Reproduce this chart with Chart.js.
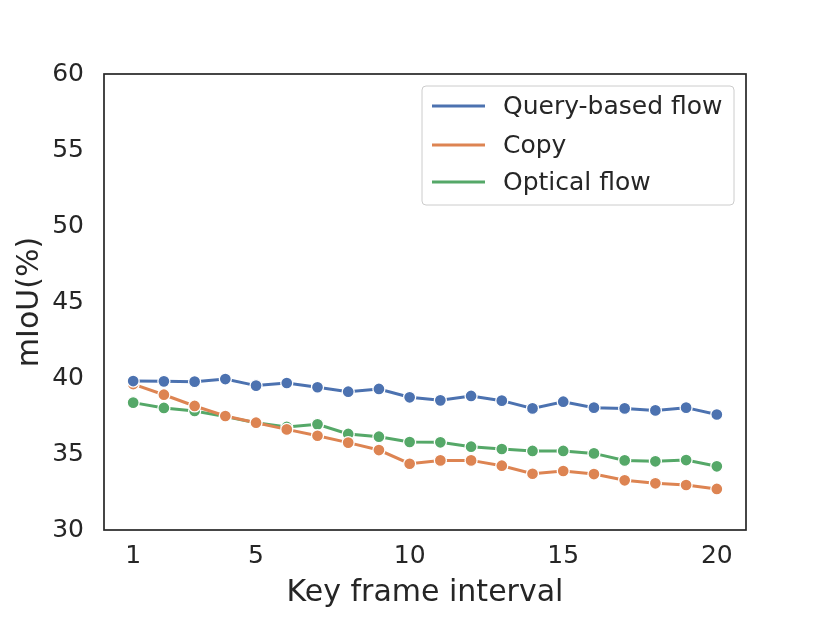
<!DOCTYPE html>
<html>
<head>
<meta charset="utf-8">
<script src="https://cdn.jsdelivr.net/npm/chart.js@4"></script>
<style>
  html,body{margin:0;padding:0;background:#fff;}
  #wrap{width:830px;height:623px;}
</style>
</head>
<body>
<div id="wrap"><canvas id="c" width="830" height="623"></canvas></div>
<script>
// key frame interval 1..20
const intervals=[1,2,3,4,5,6,7,8,9,10,11,12,13,14,15,16,17,18,19,20];
const queryFlow=[39.8,39.78,39.76,39.93,39.5,39.67,39.39,39.1,39.28,38.73,38.53,38.82,38.51,38.0,38.44,38.05,38.0,37.87,38.05,37.6];
const copyVals=[39.6,38.9,38.16,37.5,37.06,36.62,36.2,35.75,35.26,34.36,34.58,34.58,34.23,33.7,33.88,33.68,33.27,33.07,32.96,32.7];
const opticalFlow=[38.38,38.03,37.83,37.46,37.06,36.78,36.95,36.32,36.14,35.79,35.77,35.48,35.33,35.2,35.2,35.04,34.58,34.52,34.6,34.19];
const xTicks=[1,5,10,15,20];
const yTicks=[30,35,40,45,50,55,60];
const seriesNames=['Query-based flow','Copy','Optical flow'];
const colors=['#4c72b0','#dd8452','#55a868'];

const FONT='"DejaVu Sans", sans-serif';
const INK='#262626';

function mk(name,vals,col){
  return {label:name,data:vals.map((v,i)=>({x:intervals[i],y:v})),borderColor:col,backgroundColor:col,
    borderWidth:3,pointRadius:6,pointBorderColor:'#fff',pointBorderWidth:1.3,pointBackgroundColor:col,tension:0};
}

const frame={
  id:'frame',
  afterDatasetsDraw(chart){
    const {ctx,chartArea:a}=chart;
    ctx.save();
    ctx.strokeStyle=INK;ctx.lineWidth=1.7;
    ctx.strokeRect(a.left,a.top,a.right-a.left,a.bottom-a.top);
    // legend
    const bx=422,by=86,bw=312,bh=119;
    ctx.fillStyle='rgba(255,255,255,0.85)';
    ctx.strokeStyle='#cccccc';ctx.lineWidth=1;
    ctx.beginPath();ctx.roundRect(bx,by,bw,bh,4);ctx.fill();ctx.stroke();
    const rows=[106,145,182];
    ctx.font='25px '+FONT;ctx.textBaseline='middle';ctx.fillStyle=INK;
    seriesNames.forEach((n,i)=>{
      ctx.strokeStyle=colors[i];ctx.lineWidth=3;
      ctx.beginPath();ctx.moveTo(432,rows[i]);ctx.lineTo(485,rows[i]);ctx.stroke();
      ctx.fillText(n,503,rows[i]+1);
    });
    ctx.restore();
  }
};

new Chart(document.getElementById('c'),{
  type:'line',
  data:{datasets:[mk(seriesNames[0],queryFlow,colors[0]),mk(seriesNames[1],copyVals,colors[1]),mk(seriesNames[2],opticalFlow,colors[2])]},
  options:{
    responsive:false,animation:false,
    layout:{padding:{left:0,top:74,right:84,bottom:0}},
    plugins:{legend:{display:false},tooltip:{enabled:false}},
    scales:{
      x:{type:'linear',min:0.05,max:20.95,
        afterBuildTicks(s){s.ticks=xTicks.map(v=>({value:v}));},
        afterFit(s){s.height=93;},
        grid:{display:false,drawTicks:false},border:{display:false},
        ticks:{color:INK,font:{family:FONT,size:25},padding:11,maxRotation:0},
        title:{display:true,text:'Key frame interval',color:INK,font:{family:FONT,size:30},padding:{top:0,bottom:12}}},
      y:{min:30,max:60,
        afterBuildTicks(s){s.ticks=yTicks.map(v=>({value:v}));},
        afterFit(s){s.width=104;},
        grid:{display:false,drawTicks:false},border:{display:false},
        ticks:{color:INK,font:{family:FONT,size:25},padding:20},
        title:{display:true,text:'mIoU(%)',color:INK,font:{family:FONT,size:30},padding:{top:12,bottom:0}}}
    }
  },
  plugins:[frame]
});
</script>
</body>
</html>
